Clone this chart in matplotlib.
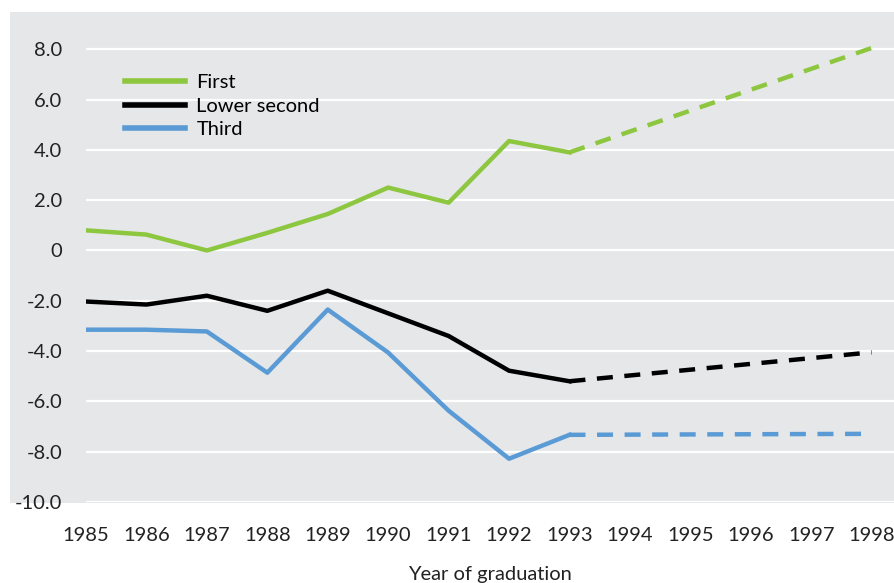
import matplotlib.pyplot as plt
from matplotlib.patches import Rectangle

# data
years = [1985, 1986, 1987, 1988, 1989, 1990, 1991, 1992, 1993]
first = [0.8, 0.63, 0.0, 0.7, 1.45, 2.5, 1.9, 4.35, 3.9]
lower_second = [-2.03, -2.15, -1.8, -2.4, -1.6, -2.5, -3.4, -4.78, -5.2]
third = [-3.15, -3.15, -3.22, -4.86, -2.35, -4.06, -6.37, -8.28, -7.33]

proj_years = [1993, 1998]
first_proj = [3.9, 8.05]
lower_second_proj = [-5.2, -4.05]
third_proj = [-7.33, -7.29]

yticks = [-10, -8, -6, -4, -2, 0, 2, 4, 6, 8]
ytick_labels = ['-10.0', '-8.0', '-6.0', '-4.0', '-2.0', '0', '2.0', '4.0', '6.0', '8.0']
xticks = list(range(1985, 1999))

plt.rcParams['font.family'] = ['Lato', 'DejaVu Sans']

fig = plt.figure(figsize=(8.94, 5.83), dpi=100)
bg = '#e6e7e9'
# gray panel behind the plot
fig.patches.append(Rectangle((10/894, 1-503/583), 884/894, 491/583,
                             transform=fig.transFigure, facecolor=bg,
                             edgecolor='none', zorder=-10))

ax = fig.add_axes([86/894, 1-502/583, 808/894, 490/583])
ax.set_facecolor('none')

green = '#8dc63f'
blue = '#5b9bd5'
lw = 3.2
ax.plot(years, first, color=green, lw=lw, label='First')
ax.plot(years, lower_second, color='black', lw=lw, label='Lower second')
ax.plot(years, third, color=blue, lw=lw, label='Third')
for ys, c in [(first_proj, green), (lower_second_proj, 'black'), (third_proj, blue)]:
    ax.plot(proj_years, ys, color=c, lw=lw, dashes=(3.6, 2.6))

ax.set_xlim(1985, 1998.37)
ax.set_ylim(-10, 9.48)
ax.set_yticks(yticks)
ax.set_yticklabels(ytick_labels)
ax.set_xticks(xticks)
ax.grid(axis='y', color='white', lw=1.6)
ax.set_axisbelow(True)
for s in ax.spines.values():
    s.set_visible(False)
ax.tick_params(axis='y', length=0, pad=17, labelsize=14.5, labelcolor='#222222')
ax.tick_params(axis='x', length=0, pad=18, labelsize=14.5, labelcolor='#222222')
ax.set_xlabel('Year of graduation', fontsize=14.5, labelpad=16, color='#222222')

leg = ax.legend(loc='upper left', bbox_to_anchor=(0.038, 0.89), frameon=False,
                fontsize=14.5, handlelength=3.0, handletextpad=0.55,
                labelspacing=0.32, borderaxespad=0)
for h in leg.get_lines():
    h.set_linewidth(4)

fig.savefig('out.png', dpi=100)
